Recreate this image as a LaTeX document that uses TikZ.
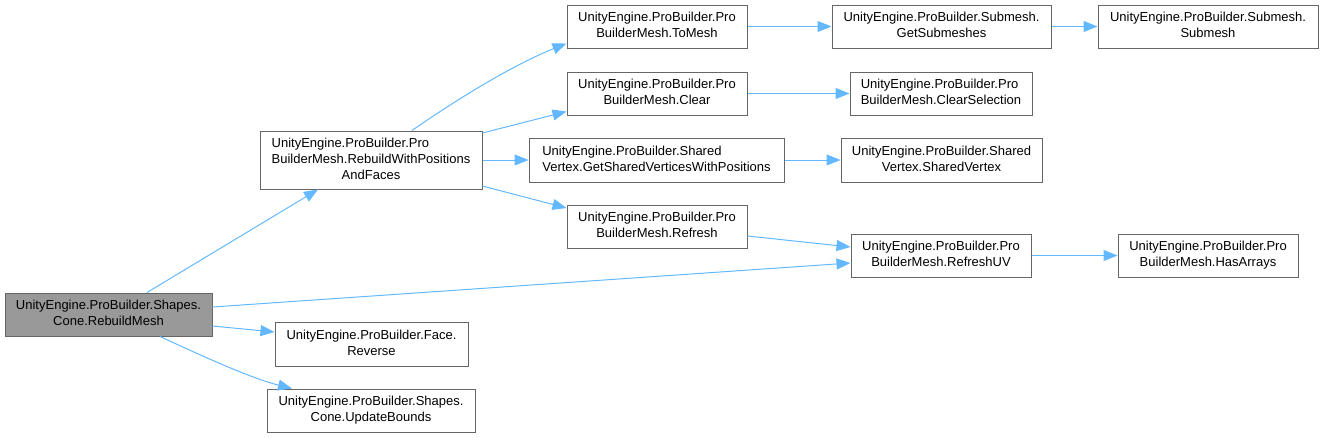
\documentclass[tikz,border=0pt]{standalone}
\usepackage{fontspec}
\setmainfont{Liberation Sans}
\usetikzlibrary{arrows.meta}

\definecolor{edgeblue}{HTML}{63B8FF}
\definecolor{boxline}{HTML}{666666}
\definecolor{rootfill}{HTML}{999999}
% all lines left, the last one centred
\newcommand{\fnlbl}[2]{\begin{tabular}{@{}l@{}}#1\\\multicolumn{1}{@{}c@{}}{#2}\end{tabular}}

\begin{document}
\begin{tikzpicture}[x=1pt, y=-1pt,
      fn/.style={draw=boxline, fill=white, line width=1pt, inner sep=0pt,
        minimum height=43pt, font=\fontsize{13}{16}\selectfont},
      root/.style={fn, fill=rootfill},
      call/.style={-{Triangle[length=14pt, width=11pt]}, line width=1pt, draw=edgeblue}
    ]
    \useasboundingbox (0,0) rectangle (1322,437);
    \node[root, minimum width=207pt] (rm)  at (108.5,314.5) {\fnlbl{UnityEngine.ProBuilder.Shapes.}{Cone.RebuildMesh}};
    \node[fn, minimum width=222pt, minimum height=58pt] (rwp) at (371,160)
      {\fnlbl{UnityEngine.ProBuilder.Pro\\BuilderMesh.RebuildWithPositions}{AndFaces}};
    \node[fn, minimum width=193pt, minimum height=44pt] (rev) at (371.5,344) {\fnlbl{UnityEngine.ProBuilder.Face.}{Reverse}};
    \node[fn, minimum width=208pt] (ub)  at (371,410.5) {\fnlbl{UnityEngine.ProBuilder.Shapes.}{Cone.UpdateBounds}};
    \node[fn, minimum width=180pt] (tom) at (657,26.5)  {\fnlbl{UnityEngine.ProBuilder.Pro}{BuilderMesh.ToMesh}};
    \node[fn, minimum width=180pt] (clr) at (657,93.5)  {\fnlbl{UnityEngine.ProBuilder.Pro}{BuilderMesh.Clear}};
    \node[fn, minimum width=255pt, minimum height=44pt] (gsv) at (656.5,160) {\fnlbl{UnityEngine.ProBuilder.Shared}{Vertex.GetSharedVerticesWithPositions}};
    \node[fn, minimum width=180pt] (rfr) at (657,226.5) {\fnlbl{UnityEngine.ProBuilder.Pro}{BuilderMesh.Refresh}};
    \node[fn, minimum width=219pt] (gsm) at (941.5,26.5) {\fnlbl{UnityEngine.ProBuilder.Submesh.}{GetSubmeshes}};
    \node[fn, minimum width=220pt] (sub) at (1208,26.5)  {\fnlbl{UnityEngine.ProBuilder.Submesh.}{Submesh}};
    \node[fn, minimum width=182pt] (csel) at (941,93.5)  {\fnlbl{UnityEngine.ProBuilder.Pro}{BuilderMesh.ClearSelection}};
    \node[fn, minimum width=201pt, minimum height=44pt] (sv) at (941.5,160) {\fnlbl{UnityEngine.ProBuilder.Shared}{Vertex.SharedVertex}};
    \node[fn, minimum width=180pt] (ruv) at (941,255.5) {\fnlbl{UnityEngine.ProBuilder.Pro}{BuilderMesh.RefreshUV}};
    \node[fn, minimum width=180pt] (has) at (1208,255.5) {\fnlbl{UnityEngine.ProBuilder.Pro}{BuilderMesh.HasArrays}};
    % calls from RebuildMesh
    \draw[call] ([xshift=38.5pt]rm.north) -- ([xshift=-53pt]rwp.south);
    \draw[call] ([yshift=7.5pt]rm.east) -- ([yshift=-7.5pt]ruv.west);
    \draw[call] ([yshift=-11.5pt]rm.east) -- ([yshift=12pt]rev.west);
    \draw[call] ([xshift=51.5pt]rm.south) .. controls (200,355) and (250,378) .. ([xshift=-79pt]ub.north);
    % calls from RebuildWithPositionsAndFaces
    \draw[call] ([xshift=41pt]rwp.north) .. controls (450,104) and (510,66) .. ([yshift=-17pt]tom.west);
    \draw[call] ([yshift=27pt]rwp.east) -- ([yshift=-18pt]clr.west);
    \draw[call] (rwp.east) -- (gsv.west);
    \draw[call] ([yshift=-26pt]rwp.east) -- ([yshift=18.5pt]rfr.west);
    % further calls
    \draw[call] (tom) -- (gsm);
    \draw[call] (gsm) -- (sub);
    \draw[call] (clr) -- (csel);
    \draw[call] (gsv) -- (sv);
    \draw[call] ([yshift=-9.5pt]rfr.east) -- ([yshift=8.5pt]ruv.west);
    \draw[call] (ruv) -- (has);
  \end{tikzpicture}
\end{document}
